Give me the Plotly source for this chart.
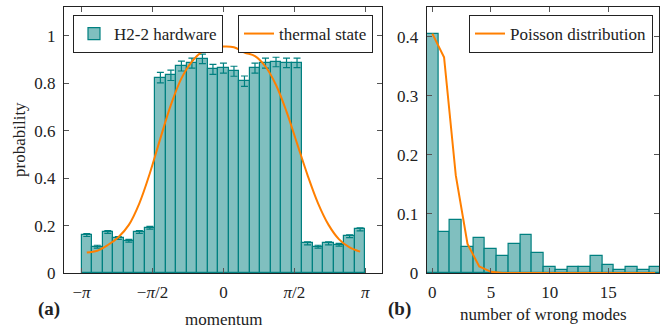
import plotly.graph_objects as go
import numpy as np

# ---------------- data ----------------
# panel (a): momentum distribution (27 bins from -pi to pi)
n_bins = 27
momentum_edges = np.linspace(-np.pi, np.pi, n_bins + 1)
momentum = 0.5 * (momentum_edges[:-1] + momentum_edges[1:])
hardware_prob = [0.160, 0.111, 0.173, 0.148, 0.136, 0.173, 0.191,
                 0.824, 0.834, 0.873, 0.885, 0.903, 0.859, 0.864, 0.851,
                 0.809, 0.864, 0.885, 0.890, 0.886, 0.886,
                 0.125, 0.111, 0.125, 0.119, 0.155, 0.184]
hardware_err = [0.006, 0.006, 0.006, 0.006, 0.006, 0.006, 0.006,
                0.022, 0.022, 0.021, 0.021, 0.020, 0.021, 0.021, 0.021,
                0.022, 0.021, 0.021, 0.020, 0.020, 0.020,
                0.006, 0.006, 0.006, 0.006, 0.006, 0.006]
thermal_prob = [0.086, 0.094, 0.118, 0.151, 0.203, 0.294, 0.421,
                0.568, 0.709, 0.821, 0.892, 0.934, 0.948, 0.955, 0.952,
                0.930, 0.915, 0.871, 0.793, 0.681, 0.547,
                0.413, 0.294, 0.203, 0.142, 0.108, 0.090]
momentum_ticks = [-np.pi, -np.pi / 2, 0, np.pi / 2, np.pi]
momentum_ticktext = ["\u2212<i>\u03c0</i>", "\u2212<i>\u03c0</i>/2", "0",
                     "<i>\u03c0</i>/2", "<i>\u03c0</i>"]

# panel (b): number of wrong modes
wrong_modes = list(range(20))
wrong_prob = [0.405, 0.0695, 0.089, 0.044, 0.059, 0.040, 0.0295, 0.049,
              0.064, 0.0345, 0.0097, 0.0045, 0.0097, 0.0097, 0.0295,
              0.014, 0.0045, 0.0097, 0.0045, 0.0097]
poisson_prob = [0.405, 0.365, 0.165, 0.049, 0.011, 0.002, 0.0, 0.0, 0.0,
                0.0, 0.0, 0.0, 0.0, 0.0, 0.0, 0.0, 0.0, 0.0, 0.0, 0.0]

# ---------------- style ----------------
W, H = 671, 329
TEAL = "#008080"
TEAL_FILL = "#80BFBF"
ORANGE = "#FF7F00"
FONT = "Liberation Serif, Times New Roman, DejaVu Serif, serif"
FS = 17


def px_x(p):
    return p / W


def px_y(p):
    return 1 - p / H


fig = go.Figure()

fig.add_trace(go.Bar(
    x=momentum, y=hardware_prob, width=2 * np.pi / n_bins,
    marker=dict(color=TEAL_FILL, line=dict(color=TEAL, width=1.2)),
    error_y=dict(type="data", array=hardware_err, color=TEAL,
                 thickness=1.2, width=3.5),
    name="H2-2 hardware", legend="legend", xaxis="x", yaxis="y"))

fig.add_trace(go.Scatter(
    x=momentum, y=thermal_prob, mode="lines",
    line=dict(color=ORANGE, width=2, shape="spline"),
    name="thermal state", legend="legend2", xaxis="x", yaxis="y"))

fig.add_trace(go.Bar(
    x=wrong_modes, y=wrong_prob, width=1,
    marker=dict(color=TEAL_FILL, line=dict(color=TEAL, width=1.2)),
    showlegend=False, xaxis="x2", yaxis="y2"))

fig.add_trace(go.Scatter(
    x=wrong_modes, y=poisson_prob, mode="lines",
    line=dict(color=ORANGE, width=2),
    name="Poisson distribution", legend="legend3", xaxis="x2", yaxis="y2"))

axis_common = dict(showline=True, linecolor="#222", linewidth=1.2,
                   mirror="ticks", ticks="inside", ticklen=5,
                   tickcolor="#555", tickwidth=1, showgrid=False,
                   zeroline=False, automargin=False,
                   tickfont=dict(family=FONT, size=FS, color="#222"))

ydom = [px_y(273), px_y(7)]
leg_common = dict(bgcolor="white", bordercolor="#222", borderwidth=1,
                  font=dict(family=FONT, size=FS, color="#222"), itemwidth=30,
                  yanchor="top")
fig.update_layout(
    width=W, height=H,
    margin=dict(l=0, r=0, t=0, b=0, pad=0, autoexpand=False),
    paper_bgcolor="white", plot_bgcolor="white",
    bargap=0,
    font=dict(family=FONT, size=FS, color="#222"),
    xaxis=dict(domain=[px_x(64), px_x(382)], range=[-3.53, 3.51],
               tickvals=momentum_ticks, ticktext=momentum_ticktext,
               anchor="y", ticklabelstandoff=3, **axis_common),
    yaxis=dict(domain=ydom, range=[0, 1.122],
               tickvals=[0, 0.2, 0.4, 0.6, 0.8, 1],
               ticktext=["0", "0.2", "0.4", "0.6", "0.8", "1"],
               anchor="x", ticklabelstandoff=4, **axis_common),
    xaxis2=dict(domain=[px_x(426.7), px_x(659.3)], range=[-0.48, 19.35],
                tickvals=[0, 5, 10, 15], ticktext=["0", "5", "10", "15"],
                anchor="y2", ticklabelstandoff=3, **axis_common),
    yaxis2=dict(domain=ydom, range=[0, 0.45],
                tickvals=[0, 0.1, 0.2, 0.3, 0.4],
                ticktext=["0", "0.1", "0.2", "0.3", "0.4"],
                anchor="x2", ticklabelstandoff=4, **axis_common),
    legend=dict(x=px_x(73), y=px_y(15), xanchor="left", **leg_common),
    legend2=dict(x=px_x(373), y=px_y(15), xanchor="right", **leg_common),
    legend3=dict(x=px_x(653), y=px_y(15), xanchor="right", **leg_common),
    annotations=[
        dict(text="momentum", x=px_x(223), y=px_y(319), xref="paper",
             yref="paper", xanchor="center", yanchor="middle", showarrow=False,
             font=dict(family=FONT, size=FS)),
        dict(text="number of wrong modes", x=px_x(543), y=px_y(314),
             xref="paper", yref="paper", xanchor="center", yanchor="middle",
             showarrow=False, font=dict(family=FONT, size=FS)),
        dict(text="probability", x=px_x(20), y=px_y(140), xref="paper",
             yref="paper", xanchor="center", yanchor="middle", textangle=-90,
             showarrow=False, font=dict(family=FONT, size=FS)),
        dict(text="<b>(a)</b>", x=px_x(48.5), y=px_y(309), xref="paper",
             yref="paper", xanchor="center", yanchor="middle",
             showarrow=False, font=dict(family=FONT, size=19)),
        dict(text="<b>(b)</b>", x=px_x(399), y=px_y(309), xref="paper",
             yref="paper", xanchor="center", yanchor="middle",
             showarrow=False, font=dict(family=FONT, size=19)),
    ],
)

fig.write_html("out.html")
